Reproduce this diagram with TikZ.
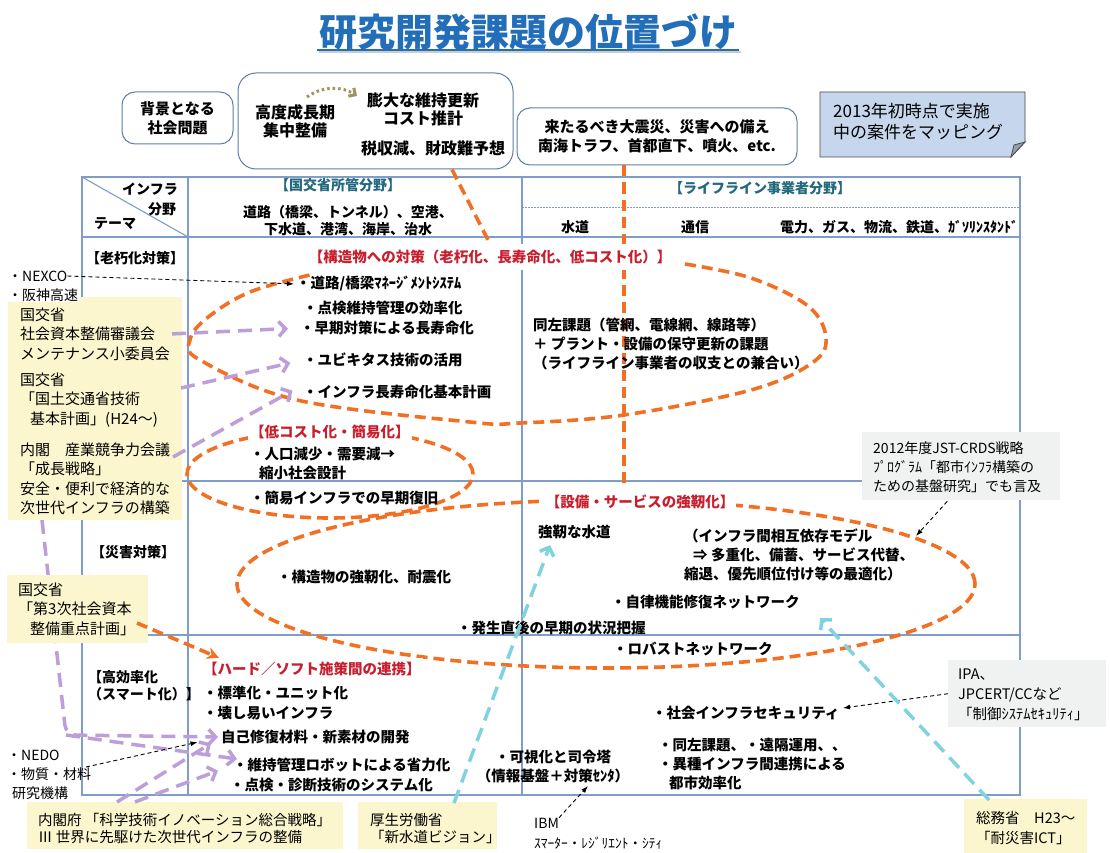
\documentclass[tikz,border=0pt]{standalone}
\usepackage{fontspec}
\setmainfont{Noto Sans CJK JP}
\usetikzlibrary{arrows.meta,calc}
\definecolor{tblc}{RGB}{127,157,202}
\definecolor{boxc}{RGB}{95,125,170}
\definecolor{titleblue}{RGB}{35,110,185}
\definecolor{tealc}{RGB}{35,105,125}
\definecolor{redc}{RGB}{200,30,45}
\definecolor{orng}{RGB}{242,112,35}
\definecolor{purp}{RGB}{188,158,216}
\definecolor{cyanc}{RGB}{128,210,222}
\definecolor{yel}{RGB}{251,246,205}
\definecolor{greyf}{RGB}{240,241,241}
\definecolor{notef}{RGB}{198,214,236}
\definecolor{olivec}{RGB}{155,150,95}
\tikzset{
  tbl/.style={draw=tblc, line width=1.1pt},
  rbox/.style={draw=boxc, line width=1pt, rounded corners=13pt, inner sep=0pt},
  b14/.style={font=\fontsize{14}{17}\selectfont\bfseries, inner sep=0pt},
  b145/.style={font=\fontsize{14.5}{19}\selectfont\bfseries, inner sep=0pt},
  b15/.style={font=\fontsize{15}{19}\selectfont\bfseries, inner sep=0pt},
  b16/.style={font=\fontsize{16}{18}\selectfont\bfseries, inner sep=0pt},
  r14/.style={font=\fontsize{14}{19}\selectfont, inner sep=0pt},
  r15/.style={font=\fontsize{15}{19.5}\selectfont, inner sep=0pt},
  redlbl/.style={font=\fontsize{14.5}{19}\selectfont\bfseries, text=redc, fill=white, inner xsep=2pt, inner ysep=4pt},
  hdr/.style={font=\fontsize{14}{17}\selectfont\bfseries, text=tealc, inner sep=0pt},
  ybox/.style={fill=yel, draw=none, inner sep=0pt},
  gbox/.style={fill=greyf, draw=none, inner sep=0pt},
  orline/.style={draw=orng, line width=3.6pt, dash pattern=on 11pt off 6pt},
  puline/.style={draw=purp, line width=3.5pt, dash pattern=on 14pt off 8pt},
  cyline/.style={draw=cyanc, line width=3.5pt, dash pattern=on 14pt off 8pt},
  bkline/.style={draw=black, line width=0.9pt, dash pattern=on 4pt off 3pt},
  barbtip/.style={-{Straight Barb[length=7pt,width=15pt]}},
  ltip/.style={-{Latex[length=7pt,width=5pt]}},
  otip/.style={-{Stealth[length=12pt,width=12pt]}},
}
\begin{document}
\begin{tikzpicture}[x=1pt,y=-1pt]
\useasboundingbox (0,0) rectangle (1110,853);
\fill[white] (0,0) rectangle (1110,853);

% ---------- title
\node[font=\fontsize{38}{40}\selectfont\bfseries, text=titleblue, inner sep=0pt] (title) at (528,32) {研究開発課題の位置づけ};
\draw[black!20, line width=2pt] (319,52) -- (741,52);
\draw[titleblue, line width=2pt] (317,50) -- (739,50);

% ---------- top boxes
\node[rbox, minimum width=111pt, minimum height=52pt, b15, align=center] (bg) at (177.5,118) {背景となる\\社会問題};
\node[rbox, rounded corners=18pt, minimum width=275pt, minimum height=96pt] (topbox) at (375.5,121) {};
\node[b16, align=center] (koudo) at (295,121) {高度成長期\\集中整備};
\node[b16, align=center] (bodai) at (423,109) {膨大な維持更新\\コスト推計};
\node[b16] (zeishu) at (433,148) {税収減、財政難予想};
\coordinate (ol1) at (307,97);
\coordinate (ol2) at (357,96);
\draw[olivec, line width=3pt, dash pattern=on 2.5pt off 3pt, -{Straight Barb[length=5pt,width=10pt]}] (ol1) .. controls (322,86) and (342,86) .. (ol2);
\node[rbox, minimum width=280pt, minimum height=57pt, b15, align=center] (kitaru) at (657,136.5) {来たるべき大震災、災害への備え\\南海トラフ、首都直下、噴火、etc.};

% note
\filldraw[fill=notef, draw=black!70, line width=0.8pt] (820,92) -- (1025,92) -- (1025,142) -- (1011,157) -- (820,157) -- cycle;
\filldraw[fill=notef!75!black, draw=black!70, line width=0.8pt] (1011,157) -- (1014,145) -- (1025,142) -- cycle;
\node[font=\fontsize{17}{21}\selectfont, inner sep=0pt, align=left, anchor=west] (note) at (833,121.5) {2013年初時点で実施\\中の案件をマッピング};

% ---------- table
\draw[tbl] (82,177) rectangle (1020,795);
\draw[tbl] (188,177) -- (188,795);
\draw[tbl] (522,177) -- (522,795);
\draw[tbl] (82,237) -- (1020,237);
\draw[tbl] (82,481) -- (1020,481);
\draw[tbl] (82,635) -- (1020,635);
\draw[tbl] (82,177) -- (188,237);
\draw[draw=tblc, line width=0.9pt, dash pattern=on 1.5pt off 1.5pt] (522,207) -- (1020,207);

\node[b14] (hinfra) at (150,189) {インフラ};
\node[b14] (hbunya) at (162,209) {分野};
\node[b14] (htheme) at (115,224) {テーマ};
\node[hdr] (hkoku) at (338,185) {【国交省所管分野】};
\node[b14, align=center] (hdoro) at (348,221) {道路（橋梁、トンネル）、空港、\\下水道、港湾、海岸、治水};
\node[hdr] (hlife) at (760,188) {【ライフライン事業者分野】};
\node[b14] (hsui) at (575,227) {水道};
\node[b14] (htsu) at (695,227) {通信};
\node[b14] (hden) at (899,227) {電力、ガス、物流、鉄道、ｶﾞｿﾘﾝｽﾀﾝﾄﾞ};

\node[b14] (rrou) at (135,258) {【老朽化対策】};
\node[b14] (rsai) at (133,552) {【災害対策】};
\node[b14, align=left, anchor=west] (rkou) at (88,686) {【高効率化\\（スマート化）】};

% ---------- orange loops
\draw[orline] plot[smooth, tension=0.6] coordinates {(685,264) (751,278) (808,306) (826,338) (812,363) (751,390) (624,415) (520,423) (470,422) (297,400) (200,360) (190,340) (207,318) (250,292) (314,274)};
\draw[orline] (330,474) ellipse [x radius=143pt, y radius=44pt];
\draw[orline] (606,584) ellipse [x radius=369pt, y radius=84pt];
\draw[orline] ([xshift=-33pt]kitaru.south) -- ++(0,317);

% ---------- labels and items
\node[redlbl, inner ysep=6pt] (kouzou) at (490,257) {【構造物への対策（老朽化、長寿命化、低コスト化）】};
\node[b145, anchor=west] (doro) at (296,284) {・道路/橋梁ﾏﾈｰｼﾞﾒﾝﾄｼｽﾃﾑ};
\node[b145, anchor=west] (tenken) at (303,308) {・点検維持管理の効率化};
\node[b145, anchor=west] (souki) at (300,328) {・早期対策による長寿命化};
\node[b145, anchor=west] (ubi) at (303,360) {・ユビキタス技術の活用};
\node[b145, anchor=west] (kihon) at (303,392) {・インフラ長寿命化基本計画};
\node[b145, align=left, anchor=west] (douza) at (533,344) {同左課題（管網、電線網、線路等）\\＋ プラント・設備の保守更新の課題\\（ライフライン事業者の収支との兼合い）};
\node[redlbl, anchor=west] (teicost) at (248,432) {【低コスト化・簡易化】};
\node[b145, align=left, anchor=west] (jinko) at (250,463) {・人口減少・需要減→\\\hspace{9pt}縮小社会設計};
\node[b145, anchor=west] (kanni) at (250,498) {・簡易インフラでの早期復旧};
\node[redlbl] (setsubi) at (640,502) {【設備・サービスの強靭化】};
\node[b145, anchor=west] (kyoujin) at (538,532) {強靭な水道};
\node[b145, align=left, anchor=west] (izon) at (684,555) {（インフラ間相互依存モデル\\\hspace{9pt}⇒ 多重化、備蓄、サービス代替、\\縮退、優先順位付け等の最適化）};
\node[b145, anchor=west] (kyoujinka) at (277,577) {・構造物の強靭化、耐震化};
\node[b145, anchor=west] (jiritsu) at (611,602) {・自律機能修復ネットワーク};
\node[b145, anchor=west] (hassei) at (457,628) {・発生直後の早期の状況把握};
\node[b145, anchor=west] (robust) at (613,649) {・ロバストネットワーク};
\node[redlbl, anchor=west] (hard) at (201,669) {【ハード／ソフト施策間の連携】};
\node[b145, anchor=west] (hyoujun) at (203,693) {・標準化・ユニット化};
\node[b145, anchor=west] (kowashi) at (203,713) {・壊し易いインフラ};
\node[b145, anchor=west] (jiko) at (221,737) {自己修復材料・新素材の開発};
\node[b145, anchor=west] (iji) at (233,765) {・維持管理ロボットによる省力化};
\node[b145, anchor=west] (shindan) at (230,785) {・点検・診断技術のシステム化};
\node[b145, align=center] (kashika) at (553,767) {・可視化と司令塔\\（情報基盤＋対策ｾﾝﾀ）};
\node[b145, anchor=west] (seki) at (652,713) {・社会インフラセキュリティ};
\node[b145, align=left, anchor=west] (ishu) at (658,764) {・同左課題、・遠隔運用、、\\・異種インフラ間連携による\\\hspace{11pt}都市効率化};

\draw[orline] ([xshift=76.5pt]topbox.south) -- (kouzou.north);

% ---------- purple path on the left (under the boxes)
\coordinate (pv0) at (42,520);
\coordinate (pv1) at (66,735);
\draw[puline, barbtip, rounded corners=10pt, shorten >=3pt] (pv0) -- (pv1) -- (jiko.west);
\draw[puline, barbtip] (pv1) -- ($(iji.west)+(4,-6)$);

% ---------- source boxes
\node[ybox, minimum width=174pt, minimum height=223pt, anchor=north west] (ybox1) at (8,297) {};
\node[ybox, minimum width=141pt, minimum height=68pt, anchor=north west] (ybox2) at (7,575) {};
\node[ybox, minimum width=316pt, minimum height=47pt, anchor=north west] (ybox3) at (27,802) {};
\node[ybox, minimum width=139pt, minimum height=47pt, anchor=north west] (ybox4) at (358,802) {};
\node[ybox, minimum width=123pt, minimum height=54pt, anchor=north west] (ybox5) at (964,799) {};
\node[gbox, minimum width=198pt, minimum height=68pt, anchor=north west] (gbox1) at (862,432) {};
\node[gbox, minimum width=158pt, minimum height=67pt, anchor=north west] (gbox2) at (948,660) {};

\node[r15, align=left, anchor=west] (blk1) at (20,334) {国交省\\社会資本整備審議会\\メンテナンス小委員会};
\node[r15, align=left, anchor=west] (blk2) at (20,400) {国交省\\「国土交通省技術\\\hspace{10pt}基本計画」(H24～)};
\node[r15, align=left, anchor=west] (blk3) at (20,479) {内閣　産業競争力会議\\「成長戦略」\\安全・便利で経済的な\\次世代インフラの構築};
\node[r15, align=left, anchor=west] (blk4) at (18,609) {国交省\\「第3次社会資本\\\hspace{12pt}整備重点計画」};
\node[r14, align=left, anchor=west] (nedo) at (7,775) {・NEDO\\・物質・材料\\\hspace{5pt}研究機構};
\node[font=\fontsize{14.5}{17.5}\selectfont, inner sep=0pt, align=left, anchor=west] (blk5) at (38,828.5) {内閣府 「科学技術イノベーション総合戦略」\\Ⅲ 世界に先駆けた次世代インフラの整備};
\node[font=\fontsize{14.5}{17.5}\selectfont, inner sep=0pt, align=left, anchor=west] (blk6) at (370,828.5) {厚生労働省\\「新水道ビジョン」};
\node[font=\fontsize{14.5}{20}\selectfont, inner sep=0pt, align=left, anchor=west] (blk7) at (976,828) {総務省　H23～\\「耐災害ICT」};
\node[r14, align=left, anchor=west] (jst) at (873,467.5) {2012年度JST-CRDS戦略\\ﾌﾟﾛｸﾞﾗﾑ「都市ｲﾝﾌﾗ構築の\\ための基盤研究」でも言及};
\node[font=\fontsize{14.5}{20}\selectfont, inner sep=0pt, align=left, anchor=west] (ipa) at (958,695) {IPA、\\JPCERT/CCなど\\「制御ｼｽﾃﾑｾｷｭﾘﾃｨ」};
\node[r14, anchor=west] (nexco) at (8,276) {・NEXCO};
\node[r14, anchor=west, fill=white, inner sep=1pt] (hanshin) at (7,295) {・阪神高速};
\node[r14, anchor=west] (ibm) at (534,823) {IBM};
\node[font=\fontsize{13.5}{15}\selectfont, inner sep=0pt, anchor=west] (ibm2) at (534,843) {ｽﾏｰﾀｰ・ﾚｼﾞﾘｴﾝﾄ・ｼﾃｨ};

% ---------- purple arrows
\draw[puline, barbtip, shorten <=2pt, shorten >=12pt] (blk1.east) -- (souki.west);
\coordinate (p2s) at (181,388);
\draw[puline, barbtip, shorten >=13pt] (p2s) -- (ubi.west);
\coordinate (p3s) at (173,457);
\draw[puline, barbtip, shorten >=12pt] (p3s) -- (kihon.north west);
\draw[puline, barbtip, shorten >=12pt] ($(ybox3.north west)+(90,0)$) -- (jiko.west);
\draw[puline, barbtip, shorten >=16pt] ($(ybox3.north west)+(108,0)$) -- (iji.west);

% ---------- black dashed arrows
\draw[bkline, ltip, shorten >=2pt] (nexco.east) -- (doro.west);
\coordinate (nd) at (86,767);
\draw[bkline, ltip, shorten >=24pt] (nd) -- (jiko.west);
\coordinate (ibmtip) at (588,786);
\draw[bkline, ltip] (ibm.north east) -- (ibmtip);
\coordinate (jsttip) at (916,536);
\draw[bkline, ltip] ($(gbox1.south)+(-14,1)$) -- (jsttip);
\coordinate (ipatip) at (843,708);
\draw[bkline, ltip] (gbox2.west) -- (ipatip);

% ---------- cyan arrows
\coordinate (c1s) at (454,803);
\draw[cyline, barbtip] (c1s) -- ($(kyoujin.south west)+(12,6)$);
\coordinate (c2s) at (989,800);
\draw[cyline, barbtip] (c2s) -- ($(jiritsu.south east)+(20,9)$);

% ---------- orange arrow
\coordinate (o3s) at (137,623);
\draw[orline, otip] (o3s) -- ($(hard.north west)+(18,0)$);
\end{tikzpicture}
\end{document}
